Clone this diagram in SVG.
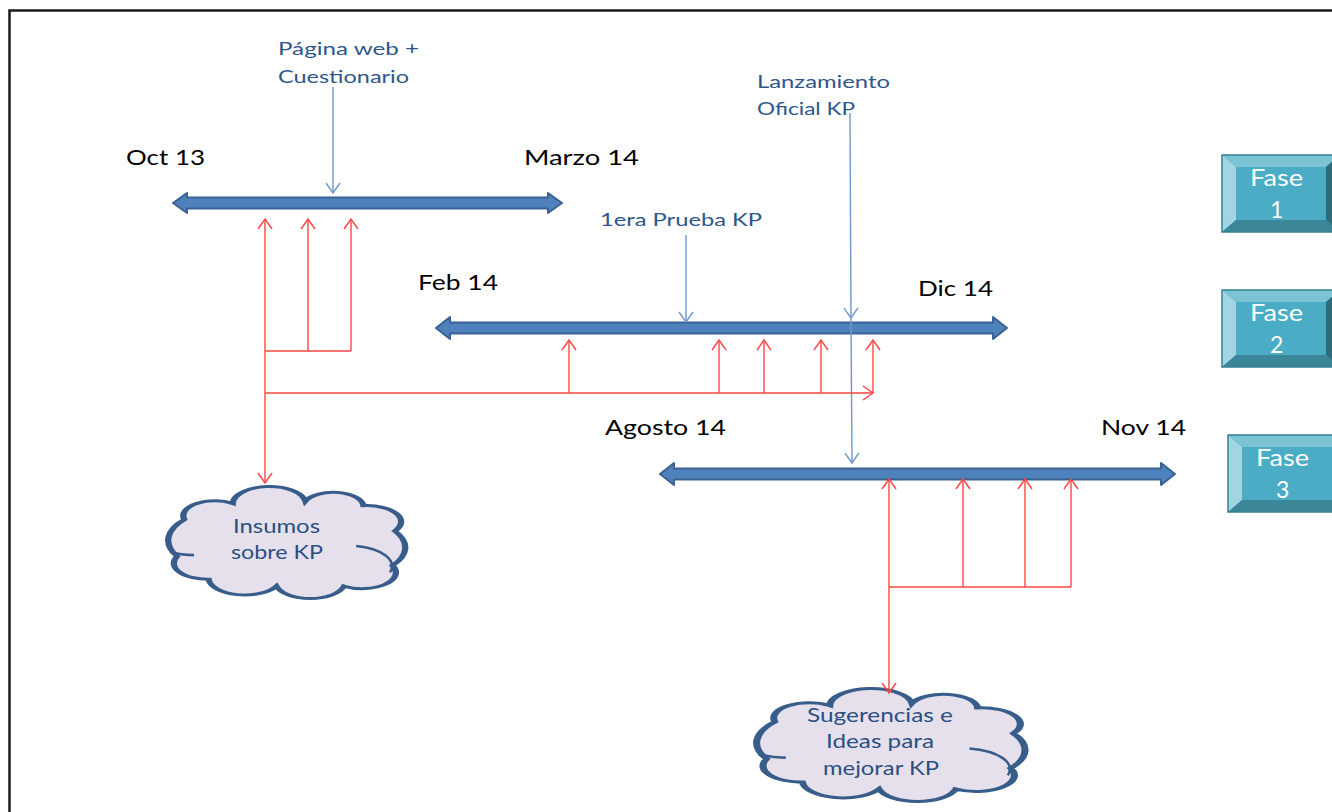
<svg xmlns="http://www.w3.org/2000/svg" width="1332" height="812" viewBox="0 0 1332 812">
<style>
.date{font-family:Lato,"Open Sans","Liberation Sans",sans-serif;font-size:21px;fill:#000}
.lbl{font-family:Lato,"Open Sans","Liberation Sans",sans-serif;font-size:18px;fill:#2E568C}
.ctx{font-family:Lato,"Open Sans","Liberation Sans",sans-serif;font-size:19px;fill:#2A4F82}
.ftx{font-family:Lato,"Open Sans","Liberation Sans",sans-serif;font-size:23px;fill:#fff}
.tl{fill:#4F81BD;stroke:#3A6294;stroke-width:2;stroke-linejoin:round}
.red{fill:none;stroke:#FF4545;stroke-width:1.4}
.blu{fill:none;stroke:#6E98CC;stroke-width:1.4}
.cloud{fill:#E6E0EC;stroke:#385D8A;stroke-width:2.6;vector-effect:non-scaling-stroke}
.cin{fill:none;stroke:#385D8A;stroke-width:2.6;vector-effect:non-scaling-stroke}
.bface{fill:#4BACC6}
.btop{fill:#7CC3D6}
.bleft{fill:#A3D4E1}
.bright{fill:#2F6B7B}
.bbot{fill:#3B8699}
.bout{fill:none;stroke:#367F92;stroke-width:1.5}
</style>
<defs>
<marker id="ar" viewBox="-12 -9 14 18" refX="0" refY="0" markerWidth="14" markerHeight="18" markerUnits="userSpaceOnUse" orient="auto">
<path d="M-10,-7 L0,0 L-10,7" fill="none" stroke="#FF4545" stroke-width="1.4"/>
</marker>
<marker id="ab" viewBox="-12 -9 14 18" refX="0" refY="0" markerWidth="14" markerHeight="18" markerUnits="userSpaceOnUse" orient="auto">
<path d="M-10,-7 L0,0 L-10,7" fill="none" stroke="#6E98CC" stroke-width="1.4"/>
</marker>
<path id="cloudShape" d="M5,62 A28,28 0 0 1 8,30 A13,13 0 0 1 28,16 A15.1,15.1 0 0 1 58,14 A12.5,12.5 0 0 1 82,18 A14,14 0 0 1 95,40 A26,26 0 0 1 94,70 A14,14 0 0 1 74,88 A14.5,14.5 0 0 1 46,88 A15,15 0 0 1 18,82 A14,14 0 0 1 5,62 Z"/>
</defs>

<rect x="9.5" y="10.5" width="1400" height="900" fill="#fff" stroke="#1a1a1a" stroke-width="2.5"/>

<g id="timeline1">
<polygon class="tl" points="173,203 187,193 187,197.5 548,197.5 548,193 562,203 548,213 548,208.5 187,208.5 187,213"/>
<text class="date" x="126" y="165" textLength="79" lengthAdjust="spacingAndGlyphs">Oct 13</text>
<text class="date" x="524" y="165" textLength="115" lengthAdjust="spacingAndGlyphs">Marzo 14</text>
</g>
<g id="timeline2">
<polygon class="tl" points="436,328 450,317 450,322.5 993,322.5 993,317 1007,328 993,339 993,333.5 450,333.5 450,339"/>
<text class="date" x="418" y="290" textLength="80" lengthAdjust="spacingAndGlyphs">Feb 14</text>
<text class="date" x="918" y="296" textLength="75" lengthAdjust="spacingAndGlyphs">Dic 14</text>
</g>
<g id="timeline3">
<polygon class="tl" points="660,474 674,463 674,468.5 1161,468.5 1161,463 1175,474 1161,485 1161,479.5 674,479.5 674,485"/>
<text class="date" x="605" y="435" textLength="121" lengthAdjust="spacingAndGlyphs">Agosto 14</text>
<text class="date" x="1101" y="435" textLength="85" lengthAdjust="spacingAndGlyphs">Nov 14</text>
</g>

<g id="label-pagina">
<text class="lbl" x="278" y="55" textLength="141" lengthAdjust="spacingAndGlyphs">Página web +</text>
<text class="lbl" x="278" y="83" textLength="131" lengthAdjust="spacingAndGlyphs">Cuestionario</text>
</g>
<g id="label-prueba">
<text class="lbl" x="600" y="226" textLength="162" lengthAdjust="spacingAndGlyphs">1era Prueba KP</text>
</g>
<g id="label-lanzamiento">
<text class="lbl" x="757" y="88" textLength="133" lengthAdjust="spacingAndGlyphs">Lanzamiento</text>
<text class="lbl" x="757" y="115" textLength="98" lengthAdjust="spacingAndGlyphs">Oficial KP</text>
</g>

<g id="cloud-insumos">
<use href="#cloudShape" class="cloud" transform="translate(165,485) scale(2.42,1.15)"/>
<path class="cin" transform="translate(165,485) scale(2.42,1.15)" d="M79,53 A18,18 0 0 1 93,76 M2,58 A20,20 0 0 0 12,61"/>
<text class="ctx" x="233" y="533" textLength="87" lengthAdjust="spacingAndGlyphs">Insumos</text>
<text class="ctx" x="231" y="559" textLength="92" lengthAdjust="spacingAndGlyphs">sobre KP</text>
</g>
<g id="cloud-sugerencias">
<use href="#cloudShape" class="cloud" transform="translate(753,687) scale(2.74,1.16)"/>
<path class="cin" transform="translate(753,687) scale(2.74,1.16)" d="M79,53 A18,18 0 0 1 93,76 M2,58 A20,20 0 0 0 12,61"/>
<text class="ctx" x="807" y="722" textLength="146" lengthAdjust="spacingAndGlyphs">Sugerencias e</text>
<text class="ctx" x="826" y="748" textLength="108" lengthAdjust="spacingAndGlyphs">Ideas para</text>
<text class="ctx" x="823" y="775" textLength="116" lengthAdjust="spacingAndGlyphs">mejorar KP</text>
</g>

<g id="fase1">
<rect class="bface" x="1222" y="155" width="118" height="77"/>
<polygon class="btop" points="1222,155 1340,155 1326,167 1236,167"/>
<polygon class="bleft" points="1222,155 1236,167 1236,220 1222,232"/>
<polygon class="bright" points="1340,155 1340,232 1326,220 1326,167"/>
<polygon class="bbot" points="1222,232 1236,220 1326,220 1340,232"/>
<rect class="bout" x="1222" y="155" width="118" height="77"/>
<text class="ftx" x="1250" y="186" textLength="53" lengthAdjust="spacingAndGlyphs">Fase</text>
<text class="ftx" x="1270" y="218">1</text>
</g>
<g id="fase2">
<rect class="bface" x="1222" y="290" width="118" height="77"/>
<polygon class="btop" points="1222,290 1340,290 1326,302 1236,302"/>
<polygon class="bleft" points="1222,290 1236,302 1236,355 1222,367"/>
<polygon class="bright" points="1340,290 1340,367 1326,355 1326,302"/>
<polygon class="bbot" points="1222,367 1236,355 1326,355 1340,367"/>
<rect class="bout" x="1222" y="290" width="118" height="77"/>
<text class="ftx" x="1250" y="321" textLength="53" lengthAdjust="spacingAndGlyphs">Fase</text>
<text class="ftx" x="1270" y="353">2</text>
</g>
<g id="fase3">
<rect class="bface" x="1228" y="435" width="118" height="77"/>
<polygon class="btop" points="1228,435 1346,435 1332,447 1242,447"/>
<polygon class="bleft" points="1228,435 1242,447 1242,500 1228,512"/>
<polygon class="bright" points="1346,435 1346,512 1332,500 1332,447"/>
<polygon class="bbot" points="1228,512 1242,500 1332,500 1346,512"/>
<rect class="bout" x="1228" y="435" width="118" height="77"/>
<text class="ftx" x="1256" y="466" textLength="53" lengthAdjust="spacingAndGlyphs">Fase</text>
<text class="ftx" x="1276" y="498">3</text>
</g>

<g id="connectors">
<path class="blu" d="M333,87 V193" marker-end="url(#ab)"/>
<path class="blu" d="M686,235 V322" marker-end="url(#ab)"/>
<path class="blu" d="M850,113 L851,318" marker-end="url(#ab)"/>
<path class="blu" d="M851,318 L852,463" marker-end="url(#ab)"/>

<path class="red" d="M265,393 V219" marker-end="url(#ar)"/>
<path class="red" d="M265,393 V483" marker-end="url(#ar)"/>
<path class="red" d="M265,351 H351"/>
<path class="red" d="M308,351 V219" marker-end="url(#ar)"/>
<path class="red" d="M351,351 V219" marker-end="url(#ar)"/>
<path class="red" d="M265,393 H873" marker-end="url(#ar)"/>
<path class="red" d="M569,393 V340" marker-end="url(#ar)"/>
<path class="red" d="M719,393 V340" marker-end="url(#ar)"/>
<path class="red" d="M764,393 V340" marker-end="url(#ar)"/>
<path class="red" d="M821,393 V340" marker-end="url(#ar)"/>
<path class="red" d="M873,393 V340" marker-end="url(#ar)"/>

<path class="red" d="M889,587 V479" marker-end="url(#ar)"/>
<path class="red" d="M889,587 V693" marker-end="url(#ar)"/>
<path class="red" d="M889,587 H1071"/>
<path class="red" d="M963,587 V479" marker-end="url(#ar)"/>
<path class="red" d="M1025,587 V479" marker-end="url(#ar)"/>
<path class="red" d="M1071,587 V479" marker-end="url(#ar)"/>
</g>
</svg>
